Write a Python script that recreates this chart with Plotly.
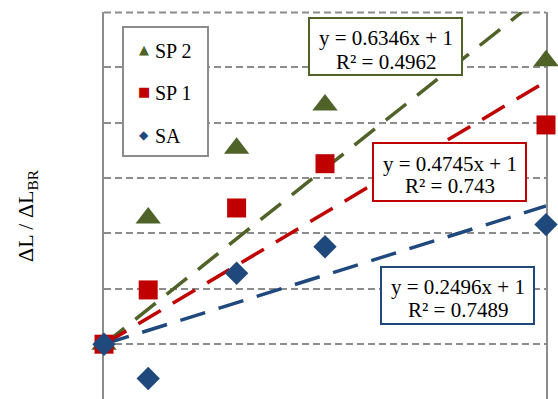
import plotly.graph_objects as go

# Measured points: x position and ΔL/ΔL_BR ratio for each series
x_vals = [0, 0.5, 1.5, 2.5, 5]
sp2_vals = [1.0, 2.14, 2.77, 3.16, 3.56]
sp1_vals = [1.0, 1.49, 2.23, 2.63, 2.98]
sa_vals = [1.0, 0.69, 1.64, 1.88, 2.08]

series_names = ["SP 2", "SP 1", "SA"]
series_values = [sp2_vals, sp1_vals, sa_vals]
series_colors = ["#4F6228", "#C00000", "#1F497D"]
series_symbols = ["triangle-up", "square", "diamond"]
marker_sizes = [22, 19, 18]

# Legend key glyphs and their font sizes
legend_glyphs = ["▲", "■", "◆"]
legend_glyph_sizes = [13, 13, 12]

# Linear trend fits forced through (0, 1)
trend_slopes = [0.6346, 0.4745, 0.2496]
trend_r2 = ["0.4962", "0.743", "0.7489"]
trend_x = [0, 5]

Y_TOP = 4.0

W, H = 558, 399
ML, MR, MT, MB = 104, 12, 12, 0
PW, PH = W - ML - MR, H - MT - MB


def px(x):
    return (x - ML) / PW


def py(y):
    return (H - MB - y) / PH


FONT = "Liberation Serif"
GRID = "#8c8c8c"

fig = go.Figure()

# Trend lines (clipped to the plot area)
for slope, color in zip(trend_slopes, series_colors):
    fig.add_trace(go.Scatter(
        x=trend_x, y=[slope * x + 1 for x in trend_x], mode="lines",
        line=dict(color=color, width=3.5, dash="26px,14px"),
        showlegend=False, hoverinfo="skip", cliponaxis=True,
    ))

# Data markers
for name, vals, color, sym, size in zip(series_names, series_values, series_colors,
                                         series_symbols, marker_sizes):
    fig.add_trace(go.Scatter(
        x=x_vals, y=vals, mode="markers", name=name,
        marker=dict(symbol=sym, size=size, color=color, line=dict(width=0)),
        showlegend=False, cliponaxis=False,
    ))

shapes = []
annotations = []

# Dashed gridline along the top edge of the plot area
shapes.append(dict(
    type="line", xref="paper", yref="paper", x0=0, x1=1,
    y0=py(12.5), y1=py(12.5),
    line=dict(color=GRID, width=2, dash="7px,4px"), layer="above",
))

# Legend box with key glyphs and labels
shapes.append(dict(
    type="rect", xref="paper", yref="paper",
    x0=px(123), x1=px(208), y0=py(156), y1=py(27),
    line=dict(color=GRID, width=2), fillcolor="white", layer="above",
))
legend_rows = [50, 92, 135]
for name, glyph, gsize, color, row in zip(series_names, legend_glyphs,
                                          legend_glyph_sizes, series_colors, legend_rows):
    annotations.append(dict(
        x=px(144), y=py(row), xref="paper", yref="paper", showarrow=False,
        text=glyph, font=dict(family="DejaVu Sans", size=gsize, color=color),
        xanchor="center", yanchor="middle",
    ))
    annotations.append(dict(
        x=px(153), y=py(row + 1), xref="paper", yref="paper", showarrow=False,
        text=name, font=dict(family=FONT, size=20, color="black"),
        xanchor="left", yanchor="middle",
    ))

# Equation boxes: (left, top, right, bottom) in pixels, line centres
boxes = [
    ((309, 18, 462, 75), 37, 61),
    ((373, 143, 526, 201), 162.5, 185.5),
    ((381, 267, 534, 324), 285.5, 309),
]
for (box, l1, l2), slope, r2, color in zip(boxes, trend_slopes, trend_r2, series_colors):
    x0, y0, x1, y1 = box
    shapes.append(dict(
        type="rect", xref="paper", yref="paper",
        x0=px(x0), x1=px(x1), y0=py(y1), y1=py(y0),
        line=dict(color=color, width=2), fillcolor="white", layer="above",
    ))
    cx = px((x0 + x1) / 2)
    annotations.append(dict(
        x=cx, y=py(l1 + 1), xref="paper", yref="paper", showarrow=False,
        text=f"y = {slope}x + 1", font=dict(family=FONT, size=21, color="black"),
        xanchor="center", yanchor="middle",
    ))
    annotations.append(dict(
        x=cx, y=py(l2 + 1), xref="paper", yref="paper", showarrow=False,
        text=f"R² = {r2}", font=dict(family=FONT, size=21, color="black"),
        xanchor="center", yanchor="middle",
    ))

# Vertical axis title
annotations.append(dict(
    x=px(27), y=py(216), xref="paper", yref="paper", showarrow=False,
    text="ΔL / ΔL<sub>BR</sub>", textangle=-90,
    font=dict(family=FONT, size=22, color="black"),
    xanchor="center", yanchor="middle",
))

fig.update_layout(
    width=W, height=H,
    margin=dict(l=ML, r=MR, t=MT, b=MB, pad=0),
    paper_bgcolor="white", plot_bgcolor="white",
    shapes=shapes, annotations=annotations,
    showlegend=False,
    font=dict(family=FONT),
)
fig.update_xaxes(range=[0, 5], showgrid=False, zeroline=False,
                 showticklabels=False, ticks="", showline=False)
fig.update_yaxes(range=[0.505, Y_TOP], tick0=0, dtick=0.5, showgrid=True,
                 gridcolor=GRID, gridwidth=2, griddash="7px,4px",
                 zeroline=False, showticklabels=False, ticks="",
                 showline=True, mirror=True, linecolor=GRID, linewidth=2,
                 layer="below traces")

fig.write_html("out.html")
